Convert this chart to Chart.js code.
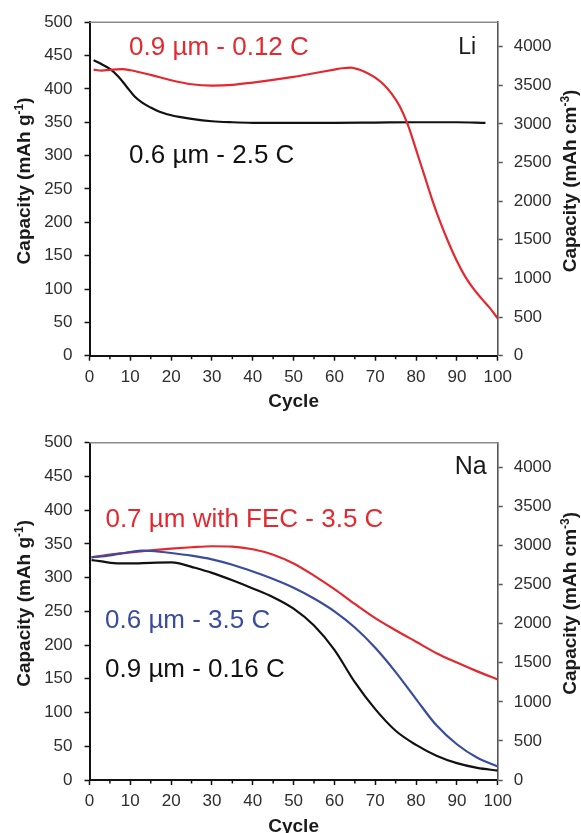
<!DOCTYPE html>
<html>
<head>
<meta charset="utf-8">
<script src="https://cdn.jsdelivr.net/npm/chart.js@4.4.1/dist/chart.umd.min.js"></script>
<style>
html, body { margin: 0; padding: 0; background: #ffffff; }
#wrap { position: relative; width: 581px; height: 833px; overflow: hidden; }
canvas { position: absolute; left: 0; }
#liChart { top: 0; }
#naChart { top: 416px; }
</style>
</head>
<body>
<div id="wrap">
  <canvas id="liChart" width="581" height="416" style="width:581px;height:416px"></canvas>
  <canvas id="naChart" width="581" height="417" style="width:581px;height:417px"></canvas>
</div>
<script>
// ---------------- data ----------------
// Li panel
const liRedCycles   = [1, 3, 5, 8, 10, 15, 20, 25, 30, 35, 40, 45, 50, 55, 60, 62, 64, 66, 68, 70, 72, 74, 76, 78, 80, 82, 84, 86, 88, 90, 92, 94, 96, 98, 100];
const liRedCapacity = [429, 427.5, 428.5, 429.5, 428, 421, 413, 407, 405, 406, 409.5, 413.5, 418, 423.5, 429, 431, 432, 429, 424, 417, 407, 393, 374, 346, 309, 271, 233, 199, 169, 142, 119, 101, 86, 72, 56];
const liBlackCycles   = [1, 3, 5, 7, 9, 11, 13, 15, 17, 19, 22, 25, 30, 35, 40, 50, 60, 70, 80, 90, 97];
const liBlackCapacity = [443, 437, 430, 419, 404, 389, 379, 372, 366, 362, 358, 355, 351.5, 350, 349.2, 349, 349, 349.5, 350, 350, 349];

// Na panel
const naRedCycles   = [0.5, 5, 10, 15, 20, 25, 30, 35, 40, 45, 50, 55, 60, 65, 70, 75, 80, 85, 90, 95, 100];
const naRedCapacity = [330, 334, 337.5, 340.5, 343, 345, 346.5, 346, 342, 334, 321, 303, 283, 261, 240, 222, 205, 188, 174, 161, 149];
const naBlueCycles   = [0.5, 5, 10, 13, 15, 20, 25, 30, 35, 40, 45, 50, 55, 60, 65, 70, 75, 80, 85, 90, 95, 100];
const naBlueCapacity = [330, 333, 338, 340, 339.5, 336.5, 332.5, 327, 319, 309, 298, 285, 269, 250, 226, 196, 160, 120, 81, 53, 33, 20];
const naBlackCycles   = [0.5, 3, 6, 10, 15, 20, 22, 25, 30, 35, 40, 45, 50, 55, 60, 65, 70, 75, 80, 85, 90, 95, 100];
const naBlackCapacity = [326, 324, 321.5, 321, 322, 322.5, 321, 316, 307, 296, 284, 271, 254, 229, 193, 145, 105, 73, 52, 36, 25, 18, 14];

// axes
const cycleMin = 0, cycleMax = 100, cycleStep = 10, cycleMinorStep = 5;
const gravMin = 0, gravMax = 500, gravStep = 50;
const volMin = 0, volMax = 4315;                       // right axis, mAh cm^-3
const volTicks = [0, 500, 1000, 1500, 2000, 2500, 3000, 3500, 4000];

// texts
const liLabels = ['0.9 µm - 0.12 C', '0.6 µm - 2.5 C', 'Li'];
const naLabels = ['0.7 µm with FEC - 3.5 C', '0.6 µm - 3.5 C', '0.9 µm - 0.16 C', 'Na'];
const xTitle = 'Cycle';
const yLeftTitle = ['Capacity (mAh g', '-1', ')'];
const yRightTitle = ['Capacity (mAh cm', '-3', ')'];

// ---------------- styling ----------------
const RED = '#e4282f';
const BLUE = '#3a4c9e';
const BLACK = '#111111';
const FONT = '"Liberation Sans", Arial, Helvetica, sans-serif';
const TICK_COLOR = '#2e2e2e';

function pts(xs, ys) { return xs.map((x, i) => ({ x: x, y: ys[i] })); }

function lineDs(xs, ys, color) {
  return {
    data: pts(xs, ys),
    borderColor: color,
    backgroundColor: color,
    borderWidth: 2.2,
    pointRadius: 0,
    fill: false,
    cubicInterpolationMode: 'monotone'
  };
}

// plugin: frame top line, minor x ticks, axis titles, annotations
const decorPlugin = {
  id: 'decor',
  afterDraw(chart, args, opts) {
    const ctx = chart.ctx;
    const a = chart.chartArea;
    const xs = chart.scales.x;
    const ys = chart.scales.y;
    ctx.save();
    // top frame line
    ctx.strokeStyle = '#8c8c8c';
    ctx.lineWidth = 1.5;
    ctx.beginPath();
    ctx.moveTo(a.left, a.top);
    ctx.lineTo(a.right, a.top);
    ctx.stroke();
    // minor x ticks
    ctx.strokeStyle = '#111';
    ctx.lineWidth = 1.5;
    for (let v = cycleMin + cycleMinorStep; v < cycleMax; v += cycleStep) {
      const px = xs.getPixelForValue(v);
      ctx.beginPath();
      ctx.moveTo(px, a.bottom);
      ctx.lineTo(px, a.bottom + 3.5);
      ctx.stroke();
    }
    // x title
    ctx.fillStyle = '#1a1a1a';
    ctx.font = 'bold 19px ' + FONT;
    ctx.textAlign = 'center';
    ctx.textBaseline = 'alphabetic';
    ctx.fillText(xTitle, (a.left + a.right) / 2, a.bottom + 51.6);
    // y titles (both read bottom-to-top)
    const yc = (a.top + a.bottom) / 2 - 8;
    drawRotated(ctx, yLeftTitle, 29.6, yc);
    drawRotated(ctx, yRightTitle, 576, yc);
    // annotations
    (opts.labels || []).forEach(l => {
      ctx.font = l.size + 'px ' + FONT;
      ctx.fillStyle = l.color;
      ctx.textAlign = l.align;
      ctx.textBaseline = 'alphabetic';
      ctx.fillText(l.text, xs.getPixelForValue(l.x), ys.getPixelForValue(l.y));
    });
    ctx.restore();
  }
};

function drawRotated(ctx, parts, x, yCenter) {
  const mainFont = 'bold 19px ' + FONT;
  const supFont = 'bold 12px ' + FONT;
  ctx.save();
  ctx.translate(x, yCenter);
  ctx.rotate(-Math.PI / 2);
  ctx.textAlign = 'left';
  ctx.textBaseline = 'alphabetic';
  ctx.fillStyle = '#1a1a1a';
  const widths = parts.map((p, i) => { ctx.font = (i === 1 ? supFont : mainFont); return ctx.measureText(p).width; });
  let cx = -widths.reduce((s, w) => s + w, 0) / 2;
  parts.forEach((p, i) => {
    ctx.font = (i === 1 ? supFont : mainFont);
    ctx.fillText(p, cx, i === 1 ? -7 : 0);
    cx += widths[i];
  });
  ctx.restore();
}

function makeOptions(topPad, xHeight, labels) {
  return {
    responsive: false,
    animation: false,
    events: [],
    layout: { padding: { top: topPad, left: 0, right: 0, bottom: 0 } },
    plugins: {
      legend: { display: false },
      tooltip: { enabled: false },
      decor: { labels: labels }
    },
    scales: {
      x: {
        type: 'linear',
        min: cycleMin, max: cycleMax,
        afterFit(s) { s.height = xHeight; },
        border: { display: true, color: '#111', width: 2 },
        grid: { drawOnChartArea: false, drawTicks: true, tickLength: 5, tickColor: '#111', tickWidth: 1.5 },
        ticks: { stepSize: cycleStep, padding: 6, color: TICK_COLOR, font: { family: FONT, size: 17 }, maxRotation: 0,
                 callback: v => String(v) }
      },
      y: {
        type: 'linear', position: 'left',
        min: gravMin, max: gravMax,
        afterFit(s) { s.width = 89.5; },
        border: { display: true, color: '#111', width: 2 },
        grid: { drawOnChartArea: false, drawTicks: true, tickLength: 5, tickColor: '#111', tickWidth: 1.5 },
        ticks: { stepSize: gravStep, padding: 12, color: TICK_COLOR, font: { family: FONT, size: 17 },
                 callback: v => String(v) }
      },
      y2: {
        type: 'linear', position: 'right',
        min: volMin, max: volMax,
        afterBuildTicks(s) { s.ticks = volTicks.map(v => ({ value: v })); },
        afterFit(s) { s.width = 581 - 497.7; },
        border: { display: true, color: '#555', width: 1.6 },
        grid: { drawOnChartArea: false, drawTicks: true, tickLength: 5, tickColor: '#555', tickWidth: 1.5 },
        ticks: { padding: 11, color: TICK_COLOR, font: { family: FONT, size: 17 },
                 callback: v => String(v) }
      }
    }
  };
}

new Chart(document.getElementById('liChart'), {
  type: 'line',
  data: {
    datasets: [
      lineDs(liRedCycles, liRedCapacity, RED),
      lineDs(liBlackCycles, liBlackCapacity, BLACK)
    ]
  },
  options: makeOptions(19, 416 - 355.7, [
    { text: liLabels[0], x: 9.7, y: 450.5, color: RED, size: 26, align: 'left' },
    { text: liLabels[1], x: 9.7, y: 289, color: BLACK, size: 26, align: 'left' },
    { text: liLabels[2], x: 94.7, y: 453, color: '#1a1a1a', size: 23, align: 'right' }
  ]),
  plugins: [decorPlugin]
});

new Chart(document.getElementById('naChart'), {
  type: 'line',
  data: {
    datasets: [
      lineDs(naBlackCycles, naBlackCapacity, BLACK),
      lineDs(naBlueCycles, naBlueCapacity, BLUE),
      lineDs(naRedCycles, naRedCapacity, RED)
    ]
  },
  options: makeOptions(26.7, 417 - 364, [
    { text: naLabels[0], x: 3.9, y: 374.6, color: RED, size: 26, align: 'left' },
    { text: naLabels[1], x: 3.8, y: 224.9, color: BLUE, size: 26, align: 'left' },
    { text: naLabels[2], x: 3.8, y: 153, color: BLACK, size: 26, align: 'left' },
    { text: naLabels[3], x: 97.3, y: 453.6, color: '#1a1a1a', size: 25, align: 'right' }
  ]),
  plugins: [decorPlugin]
});
</script>
</body>
</html>
